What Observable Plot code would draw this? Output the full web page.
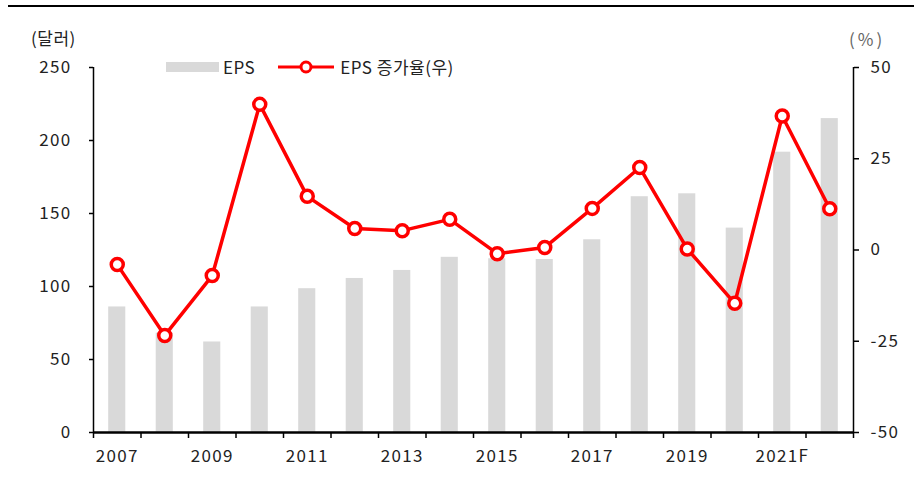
<!DOCTYPE html>
<html>
<head>
<meta charset="utf-8">
<script src="https://cdn.jsdelivr.net/npm/d3@7"></script>
<script src="https://cdn.jsdelivr.net/npm/@observablehq/plot@0.6"></script>
<style>
  body { margin: 0; background: #fff; }
  #wrap { position: relative; width: 914px; height: 479px; font-family: "Noto Sans CJK KR", "Noto Sans", sans-serif; color: #222; }
  .abs { position: absolute; white-space: nowrap; font-size: 17px; line-height: 1; }
  #topline { position: absolute; left: 8px; top: 5px; width: 906px; height: 2px; background: #000; }
  #chart svg text { letter-spacing: 1.3px; }
</style>
</head>
<body>
<div id="wrap">
  <div id="topline"></div>
  <div class="abs" style="left:31px; top:29px; letter-spacing:0.5px;">(달러)</div>
  <div class="abs" style="left:849px; top:30px; color:#666; letter-spacing:3px;">(%)</div>
  <div class="abs" style="left:166px; top:58px; display:flex; align-items:center;">
    <svg width="54" height="12"><rect x="0" y="1" width="53" height="10" fill="#d9d9d9"></rect></svg>
    <span style="margin-left:3px; letter-spacing:0.5px;">EPS</span>
    <svg width="58" height="16" style="margin-left:23px;"><line x1="0" y1="8" x2="56" y2="8" stroke="#ff0000" stroke-width="3"></line><circle cx="28" cy="8" r="5" fill="#fff" stroke="#ff0000" stroke-width="3"></circle></svg>
    <span style="margin-left:4px; letter-spacing:0.5px;">EPS 증가율(우)</span>
  </div>
  <div id="chart"></div>
</div>
<script>
const years = [2007, 2008, 2009, 2010, 2011, 2012, 2013, 2014, 2015, 2016, 2017, 2018, 2019, 2020, 2021, 2022];
const eps = [86, 68, 62, 86, 98.5, 105.5, 111, 120, 119, 118.5, 132, 161.5, 163.5, 140, 192, 215];
const growth = [-4, -23.4, -7, 39.9, 14.7, 5.9, 5.3, 8.4, -1, 0.7, 11.4, 22.6, 0.3, -14.6, 36.7, 11.3];
const xLabelYears = [2007, 2009, 2011, 2013, 2015, 2017, 2019, 2021];
const xLabels = ["2007", "2009", "2011", "2013", "2015", "2017", "2019", "2021F"];
const leftTicks = [0, 50, 100, 150, 200, 250];
const rightTicks = [-50, -25, 0, 25, 50];

const toLeft = g => (g + 50) * 2.5;
const fromLeft = v => Math.round(v / 2.5 - 50);
const halfBar = 0.18;
const xDomain = [years[0] - 0.5, years[years.length - 1] + 0.5];
const boundaries = years.map(y => y - 0.5).concat([years[years.length - 1] + 0.5]);

const data = years.map((y, i) => ({ year: y, eps: eps[i], growth: growth[i], gy: toLeft(growth[i]) }));

const chart = Plot.plot({
  width: 914,
  height: 479,
  marginLeft: 93,
  marginRight: 61,
  marginTop: 67,
  marginBottom: 47,
  style: { fontFamily: '"Noto Sans CJK KR", "Noto Sans", sans-serif', fontSize: "17px", color: "#222", background: "transparent" },
  x: { domain: xDomain, axis: null },
  y: { domain: [0, 250], axis: null },
  marks: [
    Plot.rectY(data, { x1: d => d.year - halfBar, x2: d => d.year + halfBar, y1: 0, y2: "eps", fill: "#d9d9d9" }),
    Plot.ruleX([xDomain[0]], { stroke: "#000", strokeWidth: 1.5 }),
    Plot.ruleX([xDomain[1]], { stroke: "#000", strokeWidth: 1.5 }),
    Plot.ruleY([0], { stroke: "#000", strokeWidth: 2.5 }),
    Plot.axisY({ anchor: "left", label: null, ticks: leftTicks, tickSize: 4, tickPadding: 18, fontSize: 17, tickFormat: d => String(d), stroke: "#000", strokeWidth: 1.5 }),
    Plot.axisY({ anchor: "right", label: null, ticks: rightTicks.map(toLeft), tickSize: 5, tickPadding: 12, fontSize: 17, tickFormat: d => String(fromLeft(d)), stroke: "#000", strokeWidth: 1.5 }),
    Plot.axisX({ label: null, ticks: boundaries, tickSize: 6, tickFormat: () => "", stroke: "#000", strokeWidth: 1.5 }),
    Plot.axisX({ label: null, ticks: xLabelYears, tickSize: 0, tickPadding: 17, fontSize: 17, tickFormat: d => xLabels[xLabelYears.indexOf(d)] }),
    Plot.line(data, { x: "year", y: "gy", stroke: "#ff0000", strokeWidth: 3.5 }),
    Plot.dot(data, { x: "year", y: "gy", r: 6, fill: "#fff", stroke: "#ff0000", strokeWidth: 3.5 })
  ]
});
document.getElementById("chart").appendChild(chart);
</script>
</body>
</html>
